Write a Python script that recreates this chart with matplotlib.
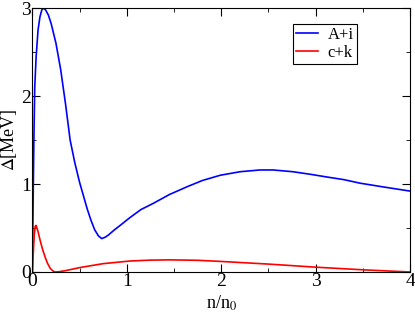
import matplotlib.pyplot as plt
from matplotlib.ticker import MultipleLocator

plt.rc('font', family='Liberation Serif')
plt.rc('mathtext', fontset='stix')

# A+i curve
xa = [0, 0.008, 0.016, 0.025, 0.04, 0.06, 0.08, 0.1, 0.117, 0.14, 0.17, 0.2,
      0.25, 0.3, 0.35, 0.4, 0.45, 0.5, 0.54, 0.58, 0.62, 0.66, 0.70, 0.735,
      0.77, 0.805, 0.87, 0.93, 1.035, 1.15, 1.28, 1.45, 1.64, 1.8, 1.99, 2.2,
      2.41, 2.55, 2.76, 2.95, 3.12, 3.3, 3.47, 3.7, 4.0]
ya = [0, 0.8, 1.5, 2.1, 2.45, 2.75, 2.9, 2.98, 3.0, 2.98, 2.92, 2.82,
      2.6, 2.3, 1.92, 1.5, 1.24, 1.02, 0.87, 0.72, 0.59, 0.48, 0.41, 0.38,
      0.395, 0.42, 0.48, 0.53, 0.62, 0.71, 0.78, 0.88, 0.97, 1.04, 1.10, 1.14,
      1.16, 1.16, 1.14, 1.11, 1.08, 1.05, 1.01, 0.97, 0.92]

# c+k curve
xc = [0, 0.01, 0.02, 0.03, 0.04, 0.06, 0.082, 0.11, 0.135, 0.16, 0.19, 0.22,
      0.24, 0.28, 0.35, 0.5, 0.75, 1.035, 1.25, 1.45, 1.75, 2.0, 2.5, 3.0,
      3.5, 4.0]
yc = [0, 0.22, 0.42, 0.52, 0.53, 0.46, 0.36, 0.25, 0.17, 0.1, 0.04, 0.01,
      0.0, 0.003, 0.015, 0.05, 0.095, 0.125, 0.135, 0.138, 0.133, 0.12, 0.09,
      0.055, 0.025, 0.0]

fig = plt.figure(figsize=(4.15, 3.13), dpi=100)
ax = fig.add_axes([0.078, 0.131, 0.91, 0.843])

ax.plot(xa, ya, color='blue', lw=1.2, label='A+i')
ax.plot(xc, yc, color='red', lw=1.2, label='c+k')

ax.set_xlim(0, 4)
ax.set_ylim(0, 3)
ax.xaxis.set_major_locator(MultipleLocator(1))
ax.xaxis.set_minor_locator(MultipleLocator(0.5))
ax.yaxis.set_major_locator(MultipleLocator(1))
ax.yaxis.set_minor_locator(MultipleLocator(0.5))
ax.tick_params(which='both', direction='in', top=True, right=True, labelsize=14, pad=1)
ax.tick_params(which='major', length=6)
ax.tick_params(which='minor', length=3)

ax.set_xlabel('n/n$_0$', fontsize=13, labelpad=2)
ax.set_ylabel(r'$\Delta$[MeV]', fontsize=13)
ax.yaxis.set_label_coords(-0.036, 0.5)

leg = ax.legend(loc='upper right', bbox_to_anchor=(0.86, 0.94), fontsize=12,
                handlelength=1.3, handletextpad=0.6, borderpad=0.2,
                labelspacing=0.1, fancybox=False, framealpha=1, borderaxespad=0)
leg.get_frame().set_edgecolor('black')
leg.get_frame().set_linewidth(0.8)

fig.savefig('out.png', dpi=100)
